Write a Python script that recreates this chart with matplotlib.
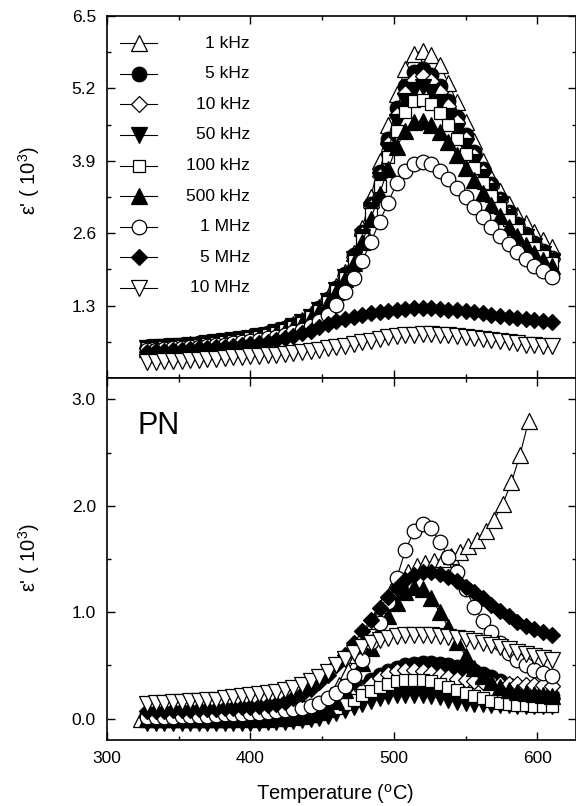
import matplotlib
matplotlib.use("Agg")
import matplotlib.pyplot as plt
from matplotlib.ticker import MultipleLocator, AutoMinorLocator

plt.rcParams['font.family'] = ['Liberation Sans', 'DejaVu Sans']
plt.rcParams['mathtext.fontset'] = 'custom'
plt.rcParams['mathtext.rm'] = 'Liberation Sans'
plt.rcParams['mathtext.it'] = 'Liberation Sans:italic'

# temperature grid (deg C)
T = [328, 334, 340, 346, 352, 358, 364, 370, 376, 382, 388, 394,
     400, 406, 412, 418, 424, 430, 436, 442, 448, 454, 460, 466,
     472, 478, 484, 490, 496, 502, 508, 514, 520, 526, 532, 538,
     544, 550, 556, 562, 568, 574, 580, 586, 592, 598, 604, 610]
T_1k_pn = [324, 330, 336, 342, 348, 354, 360, 366, 372, 378,
           384, 390, 396, 402, 408, 414, 420, 426, 432, 438,
           444, 450, 456, 462, 468, 474, 480, 486, 492, 498,
           504, 510, 516, 522, 528, 534, 540, 546, 552, 558,
           564, 570, 576, 582, 588, 594]

freqs = ['1 kHz', '5 kHz', '10 kHz', '50 kHz', '100 kHz', '500 kHz', '1 MHz', '5 MHz', '10 MHz']

# upper panel, eps' (10^3)
top_1k = [0.55, 0.56, 0.57, 0.58, 0.59, 0.61, 0.62, 0.64, 0.66, 0.68, 0.70, 0.72,
          0.75, 0.78, 0.82, 0.86, 0.91, 0.97, 1.05, 1.15, 1.28, 1.45, 1.65, 1.90,
          2.25, 2.70, 3.25, 3.90, 4.55, 5.10, 5.55, 5.82, 5.88, 5.80, 5.62, 5.30,
          4.95, 4.60, 4.25, 3.90, 3.60, 3.35, 3.12, 2.93, 2.78, 2.62, 2.48, 2.35]
top_5k = [0.55, 0.56, 0.57, 0.58, 0.59, 0.60, 0.62, 0.63, 0.65, 0.67, 0.69, 0.71,
          0.74, 0.77, 0.80, 0.84, 0.89, 0.95, 1.02, 1.12, 1.25, 1.42, 1.62, 1.86,
          2.20, 2.62, 3.12, 3.70, 4.30, 4.85, 5.25, 5.50, 5.55, 5.45, 5.25, 4.98,
          4.68, 4.37, 4.06, 3.76, 3.48, 3.22, 2.98, 2.77, 2.58, 2.42, 2.28, 2.16]
top_10k = [0.54, 0.55, 0.56, 0.57, 0.58, 0.59, 0.61, 0.62, 0.64, 0.66, 0.68, 0.70,
           0.73, 0.76, 0.79, 0.83, 0.88, 0.94, 1.01, 1.11, 1.24, 1.40, 1.60, 1.84,
           2.17, 2.58, 3.07, 3.62, 4.20, 4.73, 5.12, 5.36, 5.42, 5.33, 5.14, 4.88,
           4.59, 4.29, 3.99, 3.70, 3.43, 3.18, 2.95, 2.75, 2.56, 2.40, 2.26, 2.14]
top_50k = [0.54, 0.55, 0.56, 0.57, 0.58, 0.59, 0.60, 0.62, 0.64, 0.66, 0.68, 0.70,
           0.72, 0.75, 0.78, 0.82, 0.87, 0.93, 1.00, 1.10, 1.22, 1.38, 1.58, 1.82,
           2.14, 2.54, 3.02, 3.55, 4.10, 4.60, 4.97, 5.17, 5.22, 5.13, 4.95, 4.71,
           4.44, 4.16, 3.88, 3.61, 3.36, 3.12, 2.90, 2.71, 2.53, 2.37, 2.23, 2.11]
top_100k = [0.53, 0.54, 0.55, 0.56, 0.57, 0.58, 0.59, 0.61, 0.63, 0.65, 0.67, 0.69,
            0.71, 0.74, 0.77, 0.81, 0.86, 0.92, 0.99, 1.09, 1.21, 1.36, 1.56, 1.80,
            2.11, 2.50, 2.95, 3.45, 3.97, 4.43, 4.78, 4.97, 5.00, 4.92, 4.76, 4.54,
            4.29, 4.03, 3.77, 3.51, 3.27, 3.05, 2.84, 2.65, 2.48, 2.33, 2.19, 2.07]
top_500k = [0.52, 0.53, 0.54, 0.55, 0.56, 0.57, 0.58, 0.60, 0.62, 0.64, 0.66, 0.68,
            0.70, 0.73, 0.76, 0.80, 0.85, 0.91, 0.98, 1.08, 1.20, 1.35, 1.54, 1.77,
            2.07, 2.44, 2.86, 3.31, 3.76, 4.15, 4.44, 4.59, 4.62, 4.55, 4.42, 4.23,
            4.01, 3.78, 3.55, 3.32, 3.11, 2.91, 2.72, 2.55, 2.39, 2.25, 2.12, 2.01]
top_1M = [0.50, 0.51, 0.52, 0.53, 0.54, 0.55, 0.56, 0.57, 0.59, 0.60, 0.62, 0.64,
          0.66, 0.68, 0.71, 0.74, 0.78, 0.82, 0.87, 0.93, 1.02, 1.14, 1.32, 1.54,
          1.80, 2.10, 2.45, 2.80, 3.15, 3.50, 3.72, 3.85, 3.88, 3.84, 3.72, 3.58,
          3.42, 3.25, 3.07, 2.89, 2.72, 2.55, 2.40, 2.26, 2.13, 2.02, 1.92, 1.82]
top_5M = [0.47, 0.48, 0.49, 0.50, 0.51, 0.52, 0.53, 0.54, 0.55, 0.56, 0.58, 0.59,
          0.61, 0.63, 0.65, 0.68, 0.71, 0.75, 0.80, 0.85, 0.91, 0.97, 1.02, 1.06,
          1.10, 1.13, 1.16, 1.18, 1.20, 1.22, 1.24, 1.25, 1.25, 1.25, 1.24, 1.23,
          1.22, 1.20, 1.18, 1.16, 1.14, 1.12, 1.10, 1.08, 1.06, 1.04, 1.03, 1.01]
top_10M = [0.28, 0.29, 0.30, 0.31, 0.31, 0.32, 0.33, 0.34, 0.35, 0.36, 0.37, 0.38,
           0.39, 0.40, 0.41, 0.42, 0.44, 0.45, 0.47, 0.49, 0.51, 0.53, 0.55, 0.58,
           0.61, 0.64, 0.67, 0.70, 0.73, 0.75, 0.77, 0.78, 0.79, 0.79, 0.78, 0.77,
           0.75, 0.74, 0.72, 0.70, 0.68, 0.66, 0.64, 0.62, 0.60, 0.59, 0.58, 0.57]

# lower panel (PN), eps' (10^3)
pn_1k = [0.00, 0.00, 0.00, 0.00, 0.00, 0.00, 0.00, 0.00, 0.00, 0.00,
         0.00, 0.01, 0.01, 0.01, 0.02, 0.02, 0.03, 0.04, 0.05, 0.07,
         0.10, 0.15, 0.22, 0.32, 0.45, 0.60, 0.76, 0.92, 1.07, 1.20,
         1.30, 1.38, 1.43, 1.46, 1.48, 1.50, 1.53, 1.57, 1.62, 1.68,
         1.76, 1.87, 2.02, 2.22, 2.48, 2.80]
pn_5k = [0.03, 0.03, 0.03, 0.03, 0.03, 0.03, 0.03, 0.03, 0.03, 0.03, 0.03, 0.03,
         0.04, 0.04, 0.04, 0.05, 0.05, 0.06, 0.07, 0.08, 0.10, 0.12, 0.15, 0.19,
         0.24, 0.30, 0.36, 0.41, 0.45, 0.48, 0.50, 0.51, 0.52, 0.52, 0.51, 0.50,
         0.49, 0.47, 0.45, 0.42, 0.39, 0.35, 0.32, 0.29, 0.26, 0.24, 0.22, 0.21]
pn_10k = [0.02, 0.02, 0.02, 0.02, 0.02, 0.02, 0.02, 0.02, 0.02, 0.02, 0.02, 0.02,
          0.03, 0.03, 0.03, 0.03, 0.04, 0.04, 0.05, 0.06, 0.07, 0.09, 0.12, 0.16,
          0.21, 0.27, 0.33, 0.38, 0.42, 0.45, 0.46, 0.46, 0.45, 0.43, 0.41, 0.39,
          0.37, 0.36, 0.35, 0.34, 0.34, 0.33, 0.33, 0.33, 0.32, 0.32, 0.32, 0.31]
pn_50k = [-0.04, -0.04, -0.04, -0.04, -0.04, -0.04, -0.04, -0.04, -0.04, -0.04, -0.04, -0.04,
          -0.04, -0.04, -0.03, -0.03, -0.03, -0.02, -0.01, 0.00, 0.01, 0.03, 0.05, 0.08,
          0.11, 0.14, 0.17, 0.19, 0.21, 0.22, 0.22, 0.22, 0.22, 0.21, 0.20, 0.18,
          0.16, 0.15, 0.14, 0.14, 0.13, 0.13, 0.13, 0.12, 0.12, 0.12, 0.12, 0.12]
pn_100k = [-0.01, -0.01, -0.01, -0.01, -0.01, -0.01, -0.01, -0.01, -0.01, -0.01, -0.01, -0.01,
           -0.01, -0.01, -0.01, 0.00, 0.00, 0.01, 0.02, 0.03, 0.05, 0.07, 0.10, 0.14,
           0.18, 0.22, 0.26, 0.30, 0.33, 0.35, 0.36, 0.36, 0.36, 0.35, 0.33, 0.30,
           0.27, 0.24, 0.21, 0.19, 0.17, 0.15, 0.14, 0.13, 0.13, 0.12, 0.12, 0.12]
pn_500k = [0.00, 0.00, 0.00, 0.00, 0.00, 0.00, 0.00, 0.00, 0.00, 0.00, 0.00, 0.00,
           0.00, 0.00, 0.00, 0.01, 0.01, 0.02, 0.03, 0.04, 0.06, 0.10, 0.17, 0.27,
           0.39, 0.52, 0.66, 0.81, 0.96, 1.09, 1.19, 1.24, 1.22, 1.13, 1.00, 0.86,
           0.72, 0.59, 0.48, 0.40, 0.34, 0.30, 0.27, 0.25, 0.24, 0.23, 0.22, 0.21]
pn_1M = [0.02, 0.02, 0.02, 0.02, 0.025, 0.025, 0.03, 0.03, 0.035, 0.04, 0.04, 0.045,
         0.05, 0.055, 0.06, 0.07, 0.08, 0.09, 0.10, 0.12, 0.15, 0.19, 0.24, 0.31,
         0.40, 0.55, 0.72, 0.90, 1.10, 1.32, 1.58, 1.76, 1.83, 1.79, 1.66, 1.52,
         1.38, 1.22, 1.05, 0.92, 0.81, 0.71, 0.62, 0.55, 0.50, 0.46, 0.43, 0.40]
pn_5M = [0.07, 0.07, 0.075, 0.08, 0.08, 0.085, 0.09, 0.09, 0.095, 0.10, 0.10, 0.11,
         0.11, 0.12, 0.13, 0.14, 0.16, 0.19, 0.23, 0.28, 0.34, 0.41, 0.50, 0.60,
         0.71, 0.82, 0.93, 1.04, 1.14, 1.23, 1.30, 1.35, 1.38, 1.38, 1.36, 1.33,
         1.29, 1.24, 1.19, 1.13, 1.07, 1.01, 0.96, 0.91, 0.87, 0.84, 0.81, 0.79]
pn_10M = [0.14, 0.145, 0.15, 0.155, 0.16, 0.165, 0.17, 0.175, 0.18, 0.19, 0.20, 0.21,
          0.22, 0.23, 0.24, 0.25, 0.27, 0.29, 0.32, 0.35, 0.39, 0.44, 0.50, 0.56,
          0.62, 0.67, 0.71, 0.74, 0.76, 0.78, 0.79, 0.79, 0.79, 0.79, 0.78, 0.77,
          0.76, 0.75, 0.73, 0.71, 0.69, 0.67, 0.65, 0.63, 0.61, 0.59, 0.57, 0.55]

# marker style per frequency: (marker, filled, size)
styles = [('^', False, 11.5), ('o', True, 10.5), ('D', False, 8.5), ('v', True, 11.5),
          ('s', False, 9), ('^', True, 11.5), ('o', False, 10.5), ('D', True, 8.5),
          ('v', False, 11.5)]

top_data = [top_1k, top_5k, top_10k, top_50k, top_100k, top_500k, top_1M, top_5M, top_10M]
pn_data = [pn_1k, pn_5k, pn_10k, pn_50k, pn_100k, pn_500k, pn_1M, pn_5M, pn_10M]
pn_T = [T_1k_pn] + [T] * 8


def style_kw(st):
    m, filled, ms = st
    return dict(marker=m, ms=ms, mfc='black' if filled else 'white',
                mec='black', mew=0.9, color='black', lw=0.8)


def dress(ax, ylim, major, ticklabels):
    ax.set_xlim(300, 627)
    ax.set_ylim(*ylim)
    ax.xaxis.set_major_locator(MultipleLocator(100))
    ax.xaxis.set_minor_locator(MultipleLocator(50))
    ax.yaxis.set_minor_locator(AutoMinorLocator(2))
    ax.set_yticks(major)
    ax.tick_params(which='both', direction='in', top=True, right=True, width=1.0,
                   labelsize=12.5, pad=8)
    ax.tick_params(which='major', length=5.5)
    ax.tick_params(which='minor', length=3)
    if not ticklabels:
        ax.tick_params(labelbottom=False)
    for s in ax.spines.values():
        s.set_linewidth(1.2)
    ax.set_ylabel("ε' ( 10$^3$)", fontsize=14.5)


fig = plt.figure(figsize=(5.76, 8.06), dpi=100)
ax1 = fig.add_axes([0.1858, 0.5310, 0.8142, 0.4491])
ax2 = fig.add_axes([0.1858, 0.0819, 0.8142, 0.4491])

for y, st in zip(top_data, styles):
    ax1.plot(T, y, **style_kw(st))
for x, y, st in zip(pn_T, pn_data, styles):
    ax2.plot(x, y, **style_kw(st))

dress(ax1, (0, 6.5), [1.3, 2.6, 3.9, 5.2, 6.5], False)
dress(ax2, (-0.2, 3.2), [0.0, 1.0, 2.0, 3.0], True)
ax2.yaxis.set_major_formatter(matplotlib.ticker.FormatStrFormatter('%.1f'))
ax1.yaxis.set_label_coords(-0.139, 0.547)
ax2.yaxis.set_label_coords(-0.139, 0.503)

ax2.set_xlabel('Temperature ($^\\mathrm{o}$C)', fontsize=14.5)
ax2.xaxis.set_label_coords(0.486, -0.117)

ax2.text(0.064, 0.867, 'PN', transform=ax2.transAxes, fontsize=22,
         ha='left', va='center')

# legend drawn by hand so the labels can be right aligned
for i, (lab, st) in enumerate(zip(freqs, styles)):
    yy = 0.925 - i * 0.0845
    ax1.plot([0.028, 0.0675, 0.107], [yy, yy, yy], transform=ax1.transAxes,
             markevery=[1], clip_on=False, **style_kw(st))
    ax1.text(0.305, yy, lab, transform=ax1.transAxes, fontsize=12.5,
             ha='right', va='center')

fig.savefig('out.png', dpi=100)
